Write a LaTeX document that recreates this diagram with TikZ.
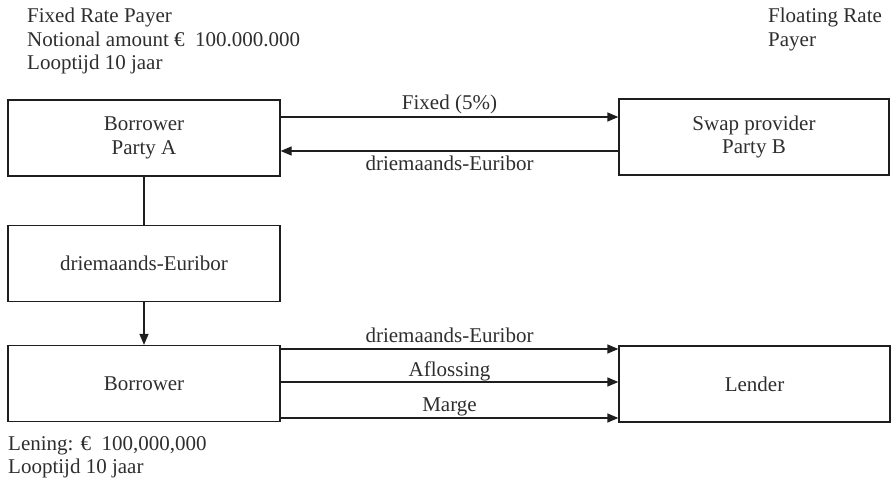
\documentclass[tikz,border=0pt]{standalone}
\usepackage{fontspec}
\setmainfont{Liberation Serif}
\usetikzlibrary{arrows.meta}
\definecolor{txt}{HTML}{2E2E2E}
\definecolor{ln}{HTML}{1E1E1E}
\begin{document}
\begin{tikzpicture}[x=1pt,y=-1pt,
  every node/.style={text=txt,font=\fontsize{21}{23.5}\selectfont},
  box/.style={draw=ln,line width=1.3pt,rectangle,inner sep=0pt,align=center,minimum width=272pt,minimum height=76pt},
  flow/.style={draw=ln,line width=1.3pt,-{Triangle[length=11pt,width=9pt]}},
  plain/.style={draw=ln,line width=1.3pt},
  lbl/.style={inner sep=0pt}]
\useasboundingbox (0,0) rectangle (891,488);
% boxes
\node[box] (A) at (144,138) {Borrower\\Party A};
\node[box,minimum width=270pt] (B) at (754,137) {Swap provider\\Party B};
\node[box] (M) at (144,263.5) {driemaands-Euribor};
\node[box] (L) at (144,383.5) {Borrower};
\node[box,minimum width=271pt] (R) at (754.5,384) {Lender};
% texts
\node[lbl,anchor=north west,align=left] (t1) at (27,8) {Fixed Rate Payer\\Notional amount €\hspace{0.5em}100.000.000\\Looptijd 10 jaar};
\node[lbl,anchor=north west,align=left] (t2) at (768,8) {Floating Rate\\Payer};
\node[lbl,anchor=north west,align=left] (t3) at (8,436) {Lening: €\hspace{0.5em}100,000,000\\Looptijd 10 jaar};
% connectors
\draw[flow] (A.east |- 0,117) -- (B.west |- 0,117) node[lbl,midway,above=2pt] (f1) {Fixed (5\%)};
\draw[flow] (B.west |- 0,151) -- (A.east |- 0,151) node[lbl,midway,below=4pt] (f2) {driemaands-Euribor};
\draw[plain] (A.south) -- (M.north);
\draw[flow] (M.south) -- (L.north);
\draw[flow] (L.east |- 0,349) -- (R.west |- 0,349) node[lbl,midway,above=6pt] (f3) {driemaands-Euribor};
\draw[flow] (L.east |- 0,382) -- (R.west |- 0,382) node[lbl,midway,above=0pt] (f4) {Aflossing};
\draw[flow] (L.east |- 0,418) -- (R.west |- 0,418) node[lbl,midway,above=1pt] (f5) {Marge};
\end{tikzpicture}
\end{document}
